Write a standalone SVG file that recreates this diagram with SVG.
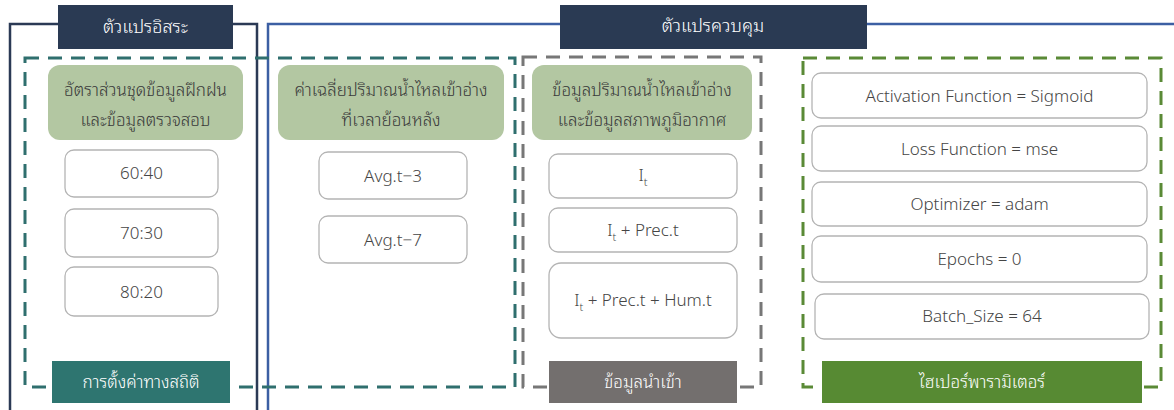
<svg xmlns="http://www.w3.org/2000/svg" width="1174" height="410" viewBox="0 0 1174 410">
<style>
.thai{font-family:"Noto Sans Thai Looped","Noto Sans Thai","Noto Sans","DejaVu Sans",sans-serif;font-weight:300}
.hdr{fill:#2a3a53}
.hdrt{fill:#ffffff;font-size:18px;text-anchor:middle}
.grp{fill:#b3c7a2}
.grpt{fill:#3a3a3a;font-size:17px;text-anchor:middle}
.box{fill:#ffffff;stroke:#b4b4b4;stroke-width:1.3}
.boxt{fill:#454545;font-family:"Noto Sans","DejaVu Sans",sans-serif;font-size:17px;text-anchor:middle;font-weight:300}
.dash{fill:none;stroke-width:3;stroke-dasharray:14 9}
.lblt{fill:#ffffff;font-size:17px;text-anchor:middle}
</style>
<rect width="1174" height="410" fill="#ffffff"/>
<g id="frames">
<polyline points="10,410 10,24 257,24 257,410" fill="none" stroke="#2b3a55" stroke-width="2.5"/>
<polyline points="268,410 268,24 1174,24" fill="none" stroke="#3c5fa3" stroke-width="2.5"/>
</g>
<g id="dashed-boxes">
<rect x="25" y="58" width="490" height="329" class="dash" stroke="#2f6f6e"/>
<rect x="523" y="57" width="238" height="330" class="dash" stroke="#777777"/>
<rect x="803" y="58" width="358" height="329" class="dash" stroke="#5a8a36"/>
</g>
<g id="header-independent">
<rect x="58" y="5" width="175" height="44" class="hdr"/>
<text x="145.5" y="33" class="thai hdrt">ตัวแปรอิสระ</text>
</g>
<g id="header-control">
<rect x="560" y="5" width="307" height="44" class="hdr"/>
<text x="713" y="32" class="thai hdrt">ตัวแปรควบคุม</text>
</g>
<g id="group-ratio">
<rect x="48" y="65" width="195" height="75" rx="12" class="grp"/>
<text x="145.5" y="96" class="thai grpt">อัตราส่วนชุดข้อมูลฝึกฝน</text>
<text x="145.5" y="126" class="thai grpt">และข้อมูลตรวจสอบ</text>
</g>
<g id="ratio-6040"><rect x="65" y="150" width="153" height="47" rx="9" class="box"/><text x="141.5" y="179" class="boxt">60:40</text></g>
<g id="ratio-7030"><rect x="65" y="209" width="153" height="48" rx="9" class="box"/><text x="141.5" y="239" class="boxt">70:30</text></g>
<g id="ratio-8020"><rect x="65" y="267" width="153" height="49" rx="9" class="box"/><text x="141.5" y="298" class="boxt">80:20</text></g>
<g id="group-avg">
<rect x="278" y="65" width="226" height="75" rx="12" class="grp"/>
<text x="391" y="96" class="thai grpt">ค่าเฉลี่ยปริมาณน้ำไหลเข้าอ่าง</text>
<text x="391" y="126" class="thai grpt">ที่เวลาย้อนหลัง</text>
</g>
<g id="avg-3"><rect x="319" y="152" width="148" height="47" rx="9" class="box"/><text x="393" y="182" class="boxt">Avg.t−3</text></g>
<g id="avg-7"><rect x="319" y="216" width="148" height="47" rx="9" class="box"/><text x="393" y="246" class="boxt">Avg.t−7</text></g>
<g id="group-input">
<rect x="532" y="65" width="220" height="75" rx="12" class="grp"/>
<text x="642" y="96" class="thai grpt">ข้อมูลปริมาณน้ำไหลเข้าอ่าง</text>
<text x="642" y="126" class="thai grpt">และข้อมูลสภาพภูมิอากาศ</text>
</g>
<g id="input-it"><rect x="549" y="154" width="188" height="44" rx="9" class="box"/><text x="643" y="181" class="boxt">I<tspan font-size="11" dy="5">t</tspan></text></g>
<g id="input-it-prec"><rect x="549" y="208" width="188" height="44" rx="9" class="box"/><text x="643" y="236" class="boxt">I<tspan font-size="11" dy="5">t</tspan><tspan dy="-5"> + Prec.t</tspan></text></g>
<g id="input-it-prec-hum"><rect x="549" y="263" width="188" height="75" rx="12" class="box"/><text x="643" y="306" class="boxt">I<tspan font-size="11" dy="5">t</tspan><tspan dy="-5"> + Prec.t + Hum.t</tspan></text></g>
<g id="hp-activation"><rect x="812" y="73" width="335" height="45" rx="9" class="box"/><text x="979.5" y="102" class="boxt">Activation Function = Sigmoid</text></g>
<g id="hp-loss"><rect x="812" y="126" width="335" height="45" rx="9" class="box"/><text x="979.5" y="155" class="boxt">Loss Function = mse</text></g>
<g id="hp-optimizer"><rect x="812" y="182" width="335" height="44" rx="9" class="box"/><text x="979.5" y="210" class="boxt">Optimizer = adam</text></g>
<g id="hp-epochs"><rect x="812" y="236" width="335" height="46" rx="9" class="box"/><text x="979.5" y="265" class="boxt">Epochs = 0</text></g>
<g id="hp-batch"><rect x="815" y="294" width="334" height="45" rx="9" class="box"/><text x="982" y="322" class="boxt">Batch_Size = 64</text></g>
<g id="label-stat">
<rect x="52" y="361" width="178" height="42" fill="#2e7570"/>
<text x="141" y="388" class="thai lblt">การตั้งค่าทางสถิติ</text>
</g>
<g id="label-input">
<rect x="549" y="361" width="188" height="42" fill="#736f6e"/>
<text x="643" y="388" class="thai lblt">ข้อมูลนำเข้า</text>
</g>
<g id="label-hyper">
<rect x="822" y="361" width="320" height="42" fill="#578a33"/>
<text x="982" y="388" class="thai lblt">ไฮเปอร์พารามิเตอร์</text>
</g>
</svg>
